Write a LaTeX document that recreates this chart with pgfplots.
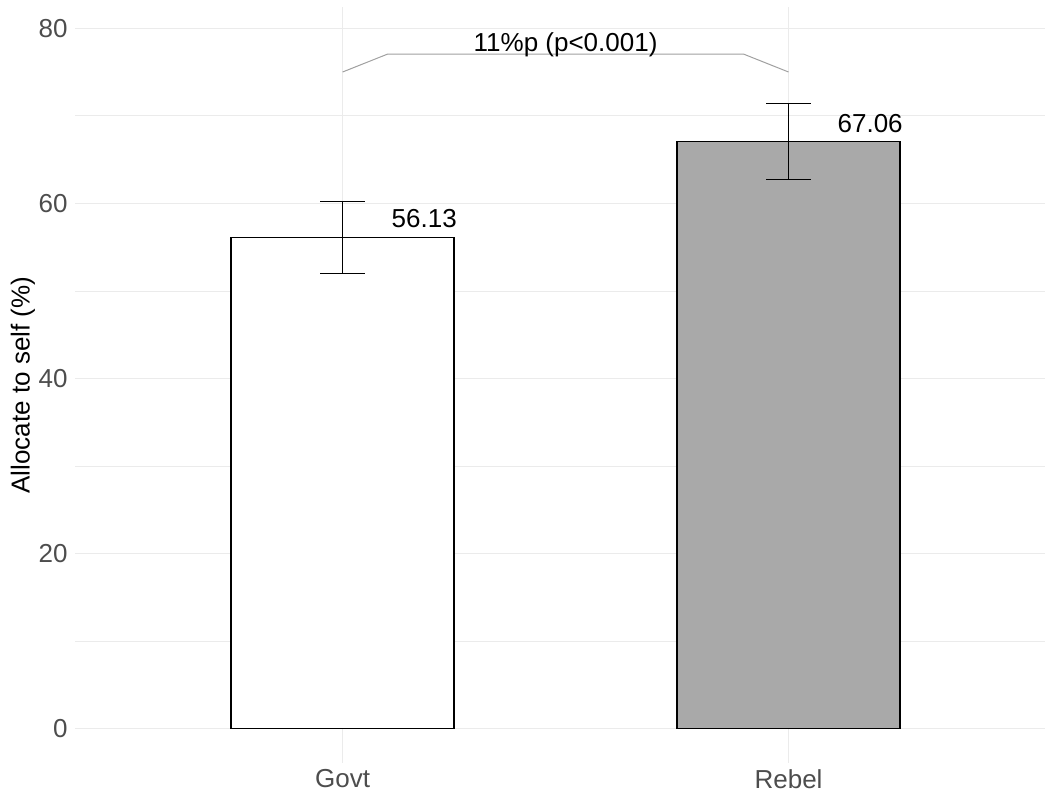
\documentclass[border=0pt]{standalone}
\usepackage{fontspec}
\setmainfont{Liberation Sans}
\usepackage{pgfplots}
\pgfplotsset{compat=1.18}
\definecolor{gridc}{HTML}{EBEBEB}
\definecolor{tickc}{HTML}{4D4D4D}
\definecolor{barg}{HTML}{A9A9A9}
\definecolor{brk}{HTML}{A0A0A0}
\begin{document}
\begin{tikzpicture}
\begin{axis}[
 at={(0,0)}, anchor=south west,
 scale only axis, width=485pt, height=378pt,
 xmin=0.4, xmax=2.575, ymin=-3.92, ymax=82.43,
 axis line style={draw=none},
 major tick length=0pt, minor tick length=0pt,
 xtick={1,2}, xticklabels={Govt,Rebel},
 ytick={0,20,40,60,80}, minor ytick={10,30,50,70},
 xmajorgrids, ymajorgrids, yminorgrids,
 major grid style={gridc, line width=0.7pt},
 minor grid style={gridc, line width=0.35pt},
 /pgf/number format/assume math mode=true,
 tick label style={font=\fontsize{13}{15}\selectfont, text=tickc},
 yticklabel style={inner sep=0pt, xshift=-3.5pt},
 xticklabel style={inner sep=0pt, yshift=-3pt},
 ylabel={Allocate to self (\%)},
 ylabel style={font=\fontsize{13}{15}\selectfont, at={(axis description cs:-0.0536,0.5)}, anchor=center},
 clip=false,
]
\addplot[ybar, bar width=0.5, bar shift=0pt, fill=white, draw=black, line width=0.6pt]
  coordinates {(1,56.13)};
\addplot[ybar, bar width=0.5, bar shift=0pt, fill=barg, draw=black, line width=0.6pt]
  coordinates {(2,67.06)};
\addplot[draw=none, mark=none,
  error bars/.cd, y dir=both, y explicit, error mark=|,
  error mark options={black, line width=0.6pt, mark size=11.1pt},
  error bar style={black, line width=0.6pt}]
  coordinates {(1,56.13) +- (0,4.1) (2,67.06) +- (0,4.3)};
\addplot[brk, line width=0.5pt, mark=none] coordinates {(1,75) (1.1,77.03) (1.9,77.03) (2,75)};
\node[anchor=base, font=\fontsize{13}{15}\selectfont] at (axis cs:1.183,57.19) {56.13};
\node[anchor=base, font=\fontsize{13}{15}\selectfont] at (axis cs:2.183,68.12) {67.06};
\node[anchor=base, font=\fontsize{13}{15}\selectfont] at (axis cs:1.5,77.4) {11\%p (p<0.001)};
\end{axis}
\pgfresetboundingbox
\path[use as bounding box] (-37.5pt,-16pt) rectangle (485pt,381.5pt);
\end{tikzpicture}
\end{document}
